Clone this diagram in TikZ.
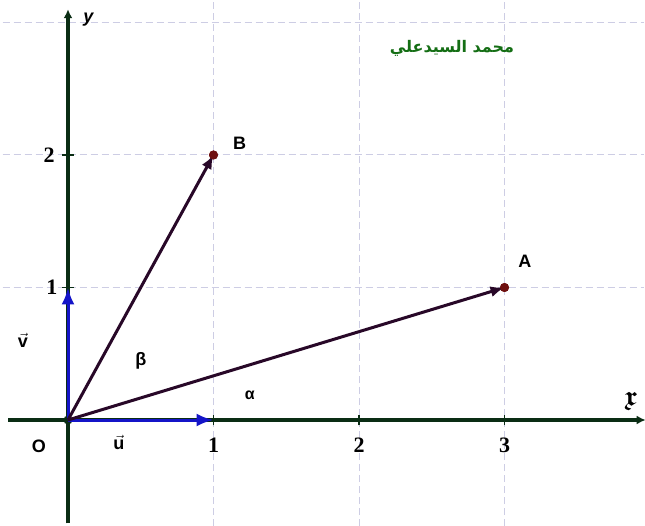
\documentclass[tikz,border=0pt]{standalone}
\usepackage{amsmath,amssymb}
\usepackage{fontspec}
\setmainfont{Liberation Serif}
\setsansfont{Liberation Sans}
\newfontfamily\arabicfont[Script=Arabic]{DejaVu Sans}
\TeXXeTstate=1
\usetikzlibrary{arrows.meta}
\definecolor{axisgreen}{RGB}{10,45,20}
\definecolor{vecblue}{RGB}{20,20,200}
\definecolor{vecpurple}{RGB}{40,8,40}
\definecolor{ptred}{RGB}{110,15,15}
\definecolor{gridc}{RGB}{205,205,228}
\definecolor{namegreen}{RGB}{20,110,20}
\tikzset{
  axisline/.style={draw=axisgreen, line width=3.2pt, -{Latex[length=9pt,width=9pt]}},
  gridline/.style={draw=gridc, line width=1pt, dash pattern=on 7pt off 4pt},
  basevec/.style={draw=vecblue, line width=3pt, -{Latex[length=17pt,width=13pt]}},
  posvec/.style={draw=vecpurple, line width=3pt, -{Latex[length=14pt,width=11pt]}},
  lbl/.style={font=\sffamily\bfseries\fontsize{18}{18}\selectfont, text=black, inner sep=0pt},
  num/.style={font=\bfseries\fontsize{22}{22}\selectfont, text=black, inner sep=0pt},
  dot/.style={circle, fill=ptred, inner sep=0pt, minimum size=9pt},
}
\begin{document}
\begin{tikzpicture}[x=1pt,y=1pt]
\useasboundingbox (0,0) rectangle (645,525);
\fill[white] (0,0) rectangle (645,525);
\begin{scope}[shift={(68,105)}, x=145.5pt, y=132.5pt]
  % grid
  \foreach \yy in {1,2,3} \draw[gridline] (-0.45,\yy) -- (3.96,\yy);
  \foreach \xx in {1,2,3} \draw[gridline] (\xx,-0.8) -- (\xx,3.2);
  % axes
  \coordinate (xs) at (-0.41,0);
  \coordinate (xe) at (3.97,0);
  \coordinate (ys) at (0,-0.78);
  \coordinate (ye) at (0,3.1);
  \draw[axisline] (xs) -- (xe);
  \draw[axisline] (ys) -- (ye);
  \foreach \xx in {1,2,3} \draw[axisgreen, line width=1.2pt] (\xx,-0.04) -- (\xx,0.04);
  \foreach \yy in {1,2} \draw[axisgreen, line width=1.2pt] (-0.04,\yy) -- (0.04,\yy);
  % points
  \node[circle, fill=axisgreen, inner sep=0pt, minimum size=9pt] (O) at (0,0) {};
  \coordinate (U) at (1,0);
  \coordinate (V) at (0,1);
  \node[dot] (A) at (3,1) {};
  \node[dot] (B) at (1,2) {};
  % vectors
  \draw[basevec] (O.center) -- (U);
  \draw[basevec] (O.center) -- (V);
  \draw[posvec] (O.center) -- (A.center);
  \draw[posvec] (O.center) -- (B.center);
  \node[dot] at (A) {};
  \node[dot] at (B) {};
  % labels
  \node[lbl] (ly) at (0.14,3.02) {\itshape y};
  \node[lbl] (lB) at (1.18,2.09) {B};
  \node[lbl] (lA) at (3.14,1.2) {A};
  \node[lbl] (lO) at (-0.2,-0.2) {O};
  \node[lbl] (lu) at (0.35,-0.17) {$\vec{\textsf{\textbf{u}}}$};
  \node[lbl] (lv) at (-0.31,0.6) {$\vec{\textsf{\textbf{v}}}$};
  \node[lbl] (lbeta) at (0.5,0.45) {β};
  \node[lbl, font=\sffamily\bfseries\fontsize{16}{16}\selectfont] (lalpha) at (1.25,0.19) {α};
  \node[lbl, font=\fontsize{28}{28}\selectfont] (lx) at (3.87,0.14) {$\boldsymbol{\mathfrak{x}}$};
  \node[num] (n1x) at (1,-0.19) {1};
  \node[num] (n2x) at (2,-0.19) {2};
  \node[num] (n3x) at (3,-0.19) {3};
  \node[num] (n1y) at (-0.11,1) {1};
  \node[num] (n2y) at (-0.13,2) {2};
\end{scope}
\node[text=namegreen, font=\arabicfont\bfseries\fontsize{16}{16}\selectfont, inner sep=0pt] (name) at (452,477) {\beginR محمد السيدعلي\endR};
\end{tikzpicture}
\end{document}
